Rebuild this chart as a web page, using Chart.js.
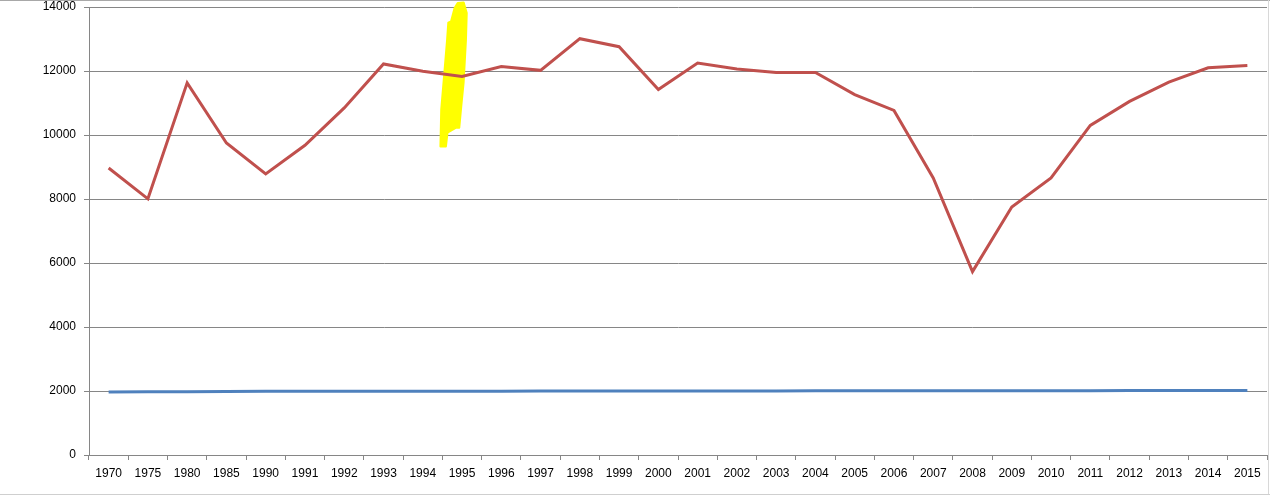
<!DOCTYPE html>
<html>
<head>
<meta charset="utf-8">
<script src="https://cdn.jsdelivr.net/npm/chart.js@4"></script>
<style>
  html, body { margin: 0; padding: 0; background: #fff; overflow: hidden; }
  #wrap { position: relative; width: 1270px; height: 498px; }
  #frameTop { position: absolute; left: 0; top: 0; width: 1270px; height: 1px; background: #a8a8a8; }
  #frameRight { position: absolute; left: 1268px; top: 0; width: 1px; height: 494px; background: #d8d8d8; }
  #frameBottom { position: absolute; left: 0; top: 494px; width: 1270px; height: 1px; background: #cfcfcf; }
</style>
</head>
<body>
<div id="wrap">
  <canvas id="c" width="1270" height="498"></canvas>
  <div id="frameTop"></div>
  <div id="frameRight"></div>
  <div id="frameBottom"></div>
</div>
<script>
const categories = ['1970','1975','1980','1985','1990','1991','1992','1993','1994','1995','1996','1997','1998','1999','2000','2001','2002','2003','2004','2005','2006','2007','2008','2009','2010','2011','2012','2013','2014','2015'];
const redSeries = [8970, 8005, 11630, 9750, 8785, 9680, 10845, 12220, 11990, 11830, 12140, 12020, 13010, 12760, 11420, 12250, 12065, 11955, 11955, 11262, 10768, 8658, 5730, 7752, 8658, 10300, 11050, 11652, 12100, 12170];
const blueSeries = [1970, 1975, 1980, 1985, 1990, 1991, 1992, 1993, 1994, 1995, 1996, 1997, 1998, 1999, 2000, 2001, 2002, 2003, 2004, 2005, 2006, 2007, 2008, 2009, 2010, 2011, 2012, 2013, 2014, 2015];
const yTicks = [0, 2000, 4000, 6000, 8000, 10000, 12000, 14000];

// yellow marker scribble (annotation), given as [category index, value] pairs
const highlightX = [8.89, 9.04, 9.12, 9.10, 9.04, 8.98, 8.93, 8.85, 8.63, 8.59, 8.45, 8.47, 8.55, 8.62, 8.65, 8.72, 8.81];
const highlightY = [14125, 14144, 13812, 12978, 11634, 10894, 10228, 10228, 10072, 9644, 9644, 10791, 11947, 12978, 13509, 13550, 13969];

const highlightPlugin = {
  id: 'highlight',
  beforeDatasetsDraw(chart) {
    const xs = chart.scales.x, ys = chart.scales.y;
    const ctx = chart.ctx;
    ctx.save();
    ctx.fillStyle = '#ffff00';
    ctx.strokeStyle = '#ffff00';
    ctx.lineWidth = 2;
    ctx.lineJoin = 'round';
    ctx.beginPath();
    highlightX.forEach((xi, i) => {
      const px = xs.getPixelForValue(xi);
      const py = ys.getPixelForValue(highlightY[i]);
      if (i === 0) ctx.moveTo(px, py); else ctx.lineTo(px, py);
    });
    ctx.closePath();
    ctx.fill();
    ctx.stroke();
    ctx.restore();
  }
};

const font = { family: '"Liberation Sans", Arial, sans-serif', size: 12 };

new Chart(document.getElementById('c'), {
  type: 'line',
  data: {
    labels: categories,
    datasets: [
      {
        label: 'Value',
        data: redSeries,
        borderColor: '#C0504D',
        backgroundColor: '#C0504D',
        borderWidth: 3,
        pointRadius: 0,
        tension: 0,
        order: 1
      },
      {
        label: 'Year',
        data: blueSeries,
        borderColor: '#4F81BD',
        backgroundColor: '#4F81BD',
        borderWidth: 3,
        pointRadius: 0,
        tension: 0,
        order: 2
      }
    ]
  },
  options: {
    responsive: false,
    animation: false,
    devicePixelRatio: 1,
    layout: { padding: { top: 7, right: 3, left: 0, bottom: 0 } },
    plugins: {
      legend: { display: false },
      tooltip: { enabled: false },
      title: { display: false }
    },
    scales: {
      x: {
        type: 'category',
        offset: true,
        grid: {
          offset: true,
          drawOnChartArea: false,
          drawTicks: true,
          tickLength: 5,
          color: '#868686'
        },
        border: { display: true, color: '#868686', width: 1 },
        ticks: {
          color: '#000',
          font: font,
          padding: 6,
          maxRotation: 0,
          autoSkip: false
        },
        afterFit(scale) { scale.height = 43; scale.paddingLeft = 0; scale.paddingRight = 0; }
      },
      y: {
        min: 0,
        max: 14000,
        afterBuildTicks(scale) { scale.ticks = yTicks.map(v => ({ value: v })); },
        grid: {
          color: '#868686',
          lineWidth: 1,
          drawTicks: true,
          tickLength: 5
        },
        border: { display: true, color: '#868686', width: 1 },
        ticks: {
          color: '#000',
          font: font,
          padding: 8,
          callback: v => String(v)
        },
        afterFit(scale) { scale.width = 89; scale.paddingTop = 0; scale.paddingBottom = 0; }
      }
    }
  },
  plugins: [highlightPlugin]
});
</script>
</body>
</html>
